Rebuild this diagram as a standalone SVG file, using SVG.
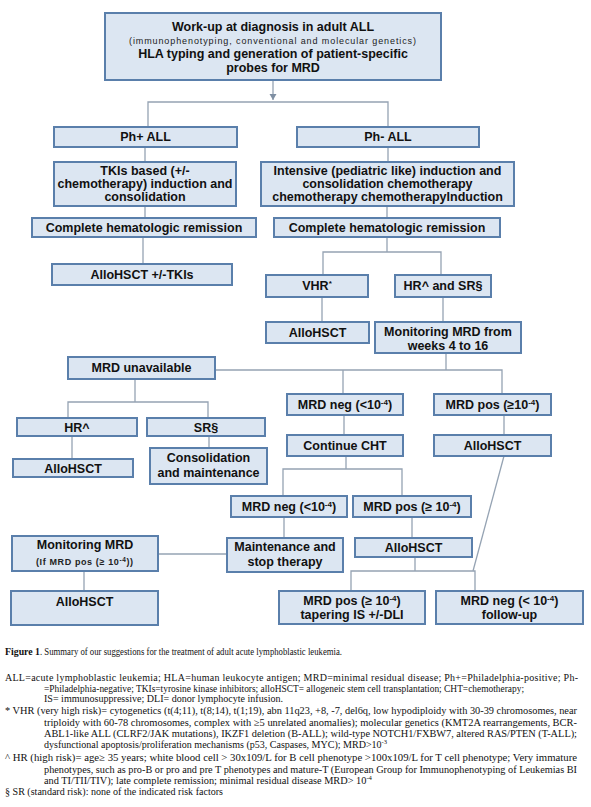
<svg xmlns="http://www.w3.org/2000/svg" width="591" height="807" viewBox="0 0 591 807">
<defs>
<style>
.box{fill:#dce6f2;stroke:#5a7fab;stroke-width:2}
.t{font-family:"Liberation Sans",Arial,sans-serif;font-weight:bold;font-size:12.5px;fill:#111;text-anchor:middle}
.s{font-family:"Liberation Sans",Arial,sans-serif;font-size:9px;fill:#222}
.c{fill:none;stroke:#95a3b3;stroke-width:1.3}
.cap{font-family:"Liberation Serif","Times New Roman",serif;font-size:10px;fill:#111}
</style>
<marker id="arrd" markerWidth="8" markerHeight="7" refX="4" refY="6" markerUnits="userSpaceOnUse">
<path d="M0.5,0 L7.5,0 L4,6 Z" fill="#7f8fa3"/>
</marker>
</defs>
<rect width="591" height="807" fill="#fff"/>

<g id="connectors">
<path class="c" d="M273,80 V100" marker-end="url(#arrd)"/>
<path class="c" d="M148,127 V102 H388 V127"/>
<path class="c" d="M145,147 V162"/>
<path class="c" d="M388,147 V162"/>
<path class="c" d="M145,206 V218"/>
<path class="c" d="M387,206 V218"/>
<path class="c" d="M143,237 V264"/>
<path class="c" d="M387,237 V252"/>
<path class="c" d="M323,275 V252 H441 V275"/>
<path class="c" d="M322,297 V322"/>
<path class="c" d="M443,297 V322"/>
<path class="c" d="M446,353 V370"/>
<path class="c" d="M215,370 H502 V394"/>
<path class="c" d="M343,370 V394"/>
<path class="c" d="M135,379 V402"/>
<path class="c" d="M68,418 V402 H208 V418"/>
<path class="c" d="M72,436 V459"/>
<path class="c" d="M209,436 V448"/>
<path class="c" d="M344,415 V435"/>
<path class="c" d="M504,415 V435"/>
<path class="c" d="M346,456 V469"/>
<path class="c" d="M283,496 V469 H402 V496"/>
<path class="c" d="M284,517 V538"/>
<path class="c" d="M412,517 V538"/>
<path class="c" d="M158,554 H227"/>
<path class="c" d="M84,571 V591"/>
<path class="c" d="M415,557 V571"/>
<path class="c" d="M351,591 V571 H475 V591"/>
<path class="c" d="M504,456 L473,571"/>
</g>

<g id="n-workup">
<rect class="box" x="105" y="13" width="336" height="67"/>
<text class="t" x="273" y="31">Work-up at diagnosis in adult ALL</text>
<text class="s" x="129" y="44" textLength="287" lengthAdjust="spacing">(immunophenotyping, conventional and molecular genetics)</text>
<text class="t" x="273" y="58">HLA typing and generation of patient-specific</text>
<text class="t" x="273" y="72">probes for MRD</text>
</g>

<g id="n-phpos"><rect class="box" x="54" y="127" width="183" height="20"/><text class="t" x="145.5" y="141">Ph+ ALL</text></g>
<g id="n-phneg"><rect class="box" x="297" y="127" width="182" height="20"/><text class="t" x="388" y="141">Ph- ALL</text></g>

<g id="n-tkis"><rect class="box" x="54" y="162" width="182" height="44"/>
<text class="t" x="145" y="175">TKIs based (+/-</text>
<text class="t" x="145" y="188">chemotherapy) induction and</text>
<text class="t" x="145" y="201">consolidation</text></g>

<g id="n-intensive"><rect class="box" x="261" y="162" width="253" height="44"/>
<text class="t" x="387.5" y="175">Intensive (pediatric like) induction and</text>
<text class="t" x="387.5" y="188">consolidation chemotherapy</text>
<text class="t" x="387.5" y="201">chemotherapy chemotherapyInduction</text></g>

<g id="n-chr-left"><rect class="box" x="32" y="218" width="224" height="19"/><text class="t" x="144" y="232">Complete hematologic remission</text></g>
<g id="n-chr-right"><rect class="box" x="274" y="218" width="226" height="19"/><text class="t" x="387" y="232">Complete hematologic remission</text></g>

<g id="n-allo-tki"><rect class="box" x="52" y="264" width="180" height="21"/><text class="t" x="142" y="279">AlloHSCT +/-TKIs</text></g>

<g id="n-vhr"><rect class="box" x="266" y="275" width="102" height="22"/><text class="t" x="317" y="290">VHR<tspan font-size="8" dy="-4">*</tspan></text></g>
<g id="n-hrsr"><rect class="box" x="395" y="275" width="96" height="22"/><text class="t" x="443" y="290">HR^ and SR§</text></g>

<g id="n-allo-vhr"><rect class="box" x="266" y="322" width="103" height="21"/><text class="t" x="317.5" y="337">AlloHSCT</text></g>
<g id="n-monitor"><rect class="box" x="375" y="322" width="146" height="31"/>
<text class="t" x="448" y="336">Monitoring MRD from</text>
<text class="t" x="448" y="350">weeks 4 to 16</text></g>

<g id="n-unavail"><rect class="box" x="68" y="357" width="147" height="22"/><text class="t" x="141.5" y="372">MRD unavailable</text></g>

<g id="n-hr"><rect class="box" x="17" y="418" width="120" height="18"/><text class="t" x="77" y="432">HR^</text></g>
<g id="n-sr"><rect class="box" x="147" y="418" width="118" height="18"/><text class="t" x="206" y="432">SR§</text></g>
<g id="n-allo-hr"><rect class="box" x="13" y="459" width="120" height="18"/><text class="t" x="73" y="473">AlloHSCT</text></g>
<g id="n-consol"><rect class="box" x="150" y="448" width="117" height="36"/>
<text class="t" x="208.5" y="462">Consolidation</text>
<text class="t" x="208.5" y="477">and maintenance</text></g>

<g id="n-mrdneg1"><rect class="box" x="287" y="394" width="116" height="21"/><text class="t" x="345" y="409">MRD neg (&lt;10<tspan font-size="8" dy="-4">-4</tspan><tspan dy="4">)</tspan></text></g>
<g id="n-mrdpos1"><rect class="box" x="434" y="394" width="117" height="21"/><text class="t" x="492.5" y="409">MRD pos (≥10<tspan font-size="8" dy="-4">-4</tspan><tspan dy="4">)</tspan></text></g>
<g id="n-cht"><rect class="box" x="287" y="435" width="116" height="21"/><text class="t" x="345" y="450">Continue CHT</text></g>
<g id="n-allo-pos1"><rect class="box" x="434" y="435" width="117" height="21"/><text class="t" x="492.5" y="450">AlloHSCT</text></g>

<g id="n-mrdneg2"><rect class="box" x="231" y="496" width="116" height="21"/><text class="t" x="289" y="511">MRD neg (&lt;10<tspan font-size="8" dy="-4">-4</tspan><tspan dy="4">)</tspan></text></g>
<g id="n-mrdpos2"><rect class="box" x="353" y="496" width="118" height="21"/><text class="t" x="412" y="511">MRD pos (≥ 10<tspan font-size="8" dy="-4">-4</tspan><tspan dy="4">)</tspan></text></g>

<g id="n-maint"><rect class="box" x="227" y="538" width="116" height="34"/>
<text class="t" x="285" y="551">Maintenance and</text>
<text class="t" x="285" y="566">stop therapy</text></g>
<g id="n-allo-pos2"><rect class="box" x="355" y="538" width="117" height="19"/><text class="t" x="413.5" y="552">AlloHSCT</text></g>

<g id="n-monitor2"><rect class="box" x="12" y="536" width="146" height="35"/>
<text class="t" x="85" y="549">Monitoring MRD</text>
<text class="s" x="36" y="565" textLength="97" lengthAdjust="spacing" font-weight="bold">(If MRD pos (≥ 10<tspan font-size="6.5" dy="-3">-4</tspan><tspan dy="3">))</tspan></text></g>
<g id="n-allo-bottom"><rect class="box" x="11" y="591" width="147" height="34"/><text class="t" x="84.5" y="606">AlloHSCT</text></g>

<g id="n-taper"><rect class="box" x="279" y="591" width="146" height="33"/>
<text class="t" x="352" y="605">MRD pos (≥ 10<tspan font-size="8" dy="-4">-4</tspan><tspan dy="4">)</tspan></text>
<text class="t" x="352" y="619">tapering IS +/-DLI</text></g>
<g id="n-follow"><rect class="box" x="436" y="591" width="147" height="33"/>
<text class="t" x="509.5" y="605">MRD neg (&lt; 10<tspan font-size="8" dy="-4">-4</tspan><tspan dy="4">)</tspan></text>
<text class="t" x="509.5" y="619">follow-up</text></g>

<g id="caption">
<text class="cap" x="5" y="655" font-weight="bold" textLength="35" lengthAdjust="spacingAndGlyphs">Figure 1</text>
<text class="cap" x="40" y="655" textLength="302" lengthAdjust="spacingAndGlyphs">. Summary of our suggestions for the treatment of adult acute lymphoblastic leukemia.</text>
<text class="cap" x="5" y="681" textLength="573" lengthAdjust="spacing">ALL=acute lymphoblastic leukemia; HLA=human leukocyte antigen; MRD=minimal residual disease; Ph+=Philadelphia-positive; Ph-</text>
<text class="cap" x="44" y="692" textLength="480" lengthAdjust="spacingAndGlyphs">=Philadelphia-negative; TKIs=tyrosine kinase inhibitors; alloHSCT= allogeneic stem cell transplantation; CHT=chemotherapy;</text>
<text class="cap" x="44" y="702" textLength="239" lengthAdjust="spacingAndGlyphs">IS= immunosuppressive; DLI= donor lymphocyte infusion.</text>
<text class="cap" x="5" y="714" textLength="572" lengthAdjust="spacingAndGlyphs">* VHR (very high risk)= cytogenetics (t(4;11), t(8;14), t(1;19), abn 11q23, +8, -7, del6q, low hypodiploidy with 30-39 chromosomes, near</text>
<text class="cap" x="44" y="726" textLength="533" lengthAdjust="spacingAndGlyphs">triploidy with 60-78 chromosomes, complex with ≥5 unrelated anomalies); molecular genetics (KMT2A rearrangements, BCR-</text>
<text class="cap" x="44" y="737" textLength="533" lengthAdjust="spacingAndGlyphs">ABL1-like ALL (CLRF2/JAK mutations), IKZF1 deletion (B-ALL); wild-type NOTCH1/FXBW7, altered RAS/PTEN (T-ALL);</text>
<text class="cap" x="44" y="748" textLength="343" lengthAdjust="spacingAndGlyphs">dysfunctional apoptosis/proliferation mechanisms (p53, Caspases, MYC); MRD&gt;10<tspan font-size="6.5" dy="-4">-3</tspan></text>
<text class="cap" x="5" y="761" textLength="572" lengthAdjust="spacingAndGlyphs">^ HR (high risk)= age≥ 35 years; white blood cell &gt; 30x109/L for B cell phenotype &gt;100x109/L for T cell phenotype; Very immature</text>
<text class="cap" x="44" y="773" textLength="533" lengthAdjust="spacingAndGlyphs">phenotypes, such as pro-B or pro and pre T phenotypes and mature-T (European Group for Immunophenotyping of Leukemias BI</text>
<text class="cap" x="44" y="784" textLength="328" lengthAdjust="spacingAndGlyphs">and TI/TII/TIV); late complete remission; minimal residual disease MRD&gt; 10<tspan font-size="6.5" dy="-4">-4</tspan></text>
<text class="cap" x="5" y="795" textLength="218" lengthAdjust="spacingAndGlyphs">§ SR (standard risk): none of the indicated risk factors</text>
</g>
</svg>
